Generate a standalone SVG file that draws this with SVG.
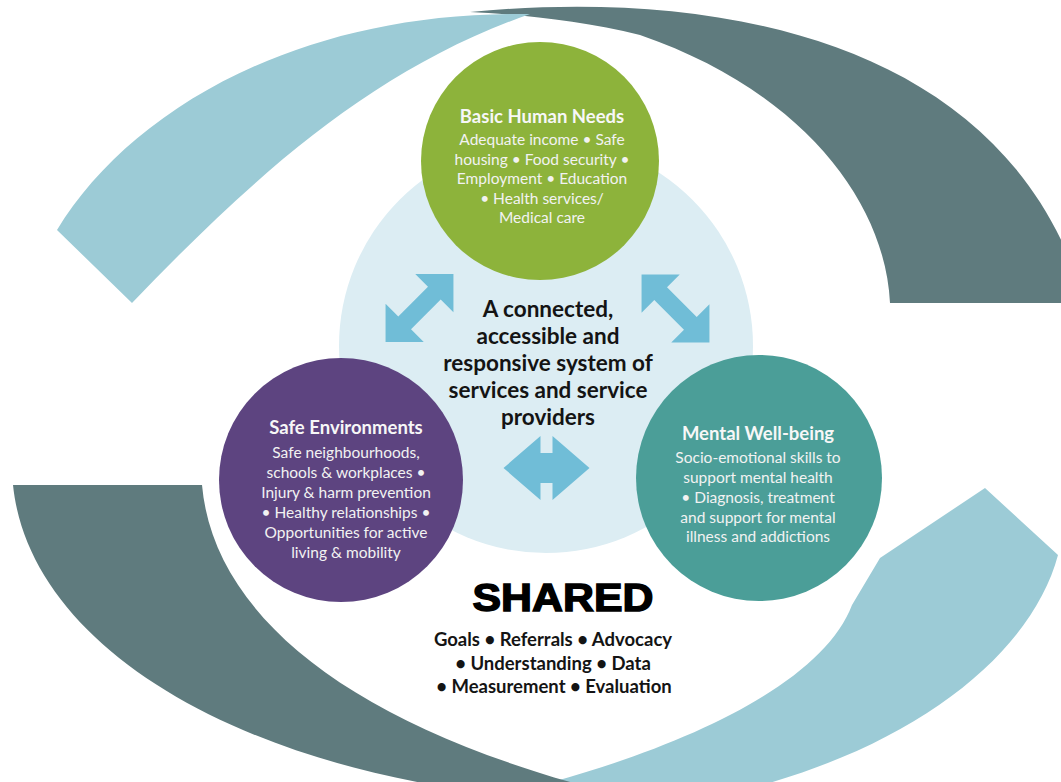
<svg xmlns="http://www.w3.org/2000/svg" width="1061" height="782" viewBox="0 0 1061 782">
<style>
.lb{fill:#9ccbd6}
.db{fill:#5f7b7e}
.arr{fill:#70bdd7}
.t{font-family:Lato,"Open Sans","Liberation Sans",sans-serif;text-anchor:middle}
.ct{fill:#f2f2f2;font-size:15.5px}
.ch{fill:#f7f7f7;font-size:18.5px;font-weight:bold}
.mid{fill:#141414;font-size:22.5px;font-weight:bold}
.sh{fill:#141414;font-size:18.5px;font-weight:bold}
</style>
<rect width="1061" height="782" fill="#ffffff"/>
<g id="bands">
<path id="band-bottom-right" class="lb" d="M985,488 L1058,555 C1030,660 900,760 700,800 L480,800 C660,760 820,690 852,605 L880,558 Z"/>
<path id="band-bottom-left" class="db" d="M13,485 L202,485 C214,620 360,735 640,800 L560,800 C250,780 30,650 13,485 Z"/>
<path id="band-top-right" class="db" d="M470,12 C720,-12 1010,40 1085,303 L890,303 C885,200 800,90 640,35 C580,20 510,14 470,12 Z"/>
<path id="band-top-left" class="lb" d="M57,230 C130,110 300,10 530,14 C370,70 250,180 132,303 Z"/>
</g>
<g id="center-system">
<circle cx="546" cy="346" r="207" fill="#dcedf3"/>
</g>
<g id="connectors">
<path class="arr" transform="translate(419.5,308) rotate(-45)" d="M-48,0 L-21,-27 L-21,-9 L21,-9 L21,-27 L48,0 L21,27 L21,9 L-21,9 L-21,27 Z"/>
<path class="arr" transform="translate(675.5,308.5) rotate(45)" d="M-48,0 L-21,-27 L-21,-9 L21,-9 L21,-27 L48,0 L21,27 L21,9 L-21,9 L-21,27 Z"/>
<path class="arr" transform="translate(546.5,468)" d="M-43,0 L-6,-32 L-6,-15 L6,-15 L6,-32 L43,0 L6,32 L6,15 L-6,15 L-6,32 Z"/>
</g>
<g id="center-label">
<text class="t mid" x="548" y="317">A connected,</text>
<text class="t mid" x="548" y="344">accessible and</text>
<text class="t mid" x="548" y="371">responsive system of</text>
<text class="t mid" x="548" y="398">services and service</text>
<text class="t mid" x="548" y="425">providers</text>
</g>
<g id="node-basic">
<circle cx="540" cy="161" r="119" fill="#8db33b"/>
<text class="t ch" x="542" y="123">Basic Human Needs</text>
<text class="t ct" x="542" y="145">Adequate income • Safe</text>
<text class="t ct" x="542" y="164.5">housing • Food security •</text>
<text class="t ct" x="542" y="184">Employment • Education</text>
<text class="t ct" x="542" y="203.5">• Health services/</text>
<text class="t ct" x="542" y="223">Medical care</text>
</g>
<g id="node-safe">
<circle cx="341" cy="480" r="122" fill="#5d4480"/>
<text class="t ch" x="346" y="434">Safe Environments</text>
<text class="t ct" x="346" y="457.5">Safe neighbourhoods,</text>
<text class="t ct" x="346" y="477.5">schools &amp; workplaces •</text>
<text class="t ct" x="346" y="497.5">Injury &amp; harm prevention</text>
<text class="t ct" x="346" y="517.5">• Healthy relationships •</text>
<text class="t ct" x="346" y="537.5">Opportunities for active</text>
<text class="t ct" x="346" y="557.5">living &amp; mobility</text>
</g>
<g id="node-mental">
<circle cx="759" cy="478" r="123" fill="#4b9e98"/>
<text class="t ch" x="758" y="440">Mental Well-being</text>
<text class="t ct" x="758" y="463">Socio-emotional skills to</text>
<text class="t ct" x="758" y="483">support mental health</text>
<text class="t ct" x="758" y="503">• Diagnosis, treatment</text>
<text class="t ct" x="758" y="523">and support for mental</text>
<text class="t ct" x="758" y="542">illness and addictions</text>
</g>
<g id="shared">
<text x="563" y="611" font-family="'Liberation Sans',Arial,sans-serif" font-weight="bold" font-size="38" text-anchor="middle" fill="#000" stroke="#000" stroke-width="1.4" textLength="181" lengthAdjust="spacingAndGlyphs">SHARED</text>
<text class="t sh" x="553" y="646">Goals • Referrals • Advocacy</text>
<text class="t sh" x="553" y="670">• Understanding • Data</text>
<text class="t sh" x="554" y="693">• Measurement • Evaluation</text>
</g>
</svg>
